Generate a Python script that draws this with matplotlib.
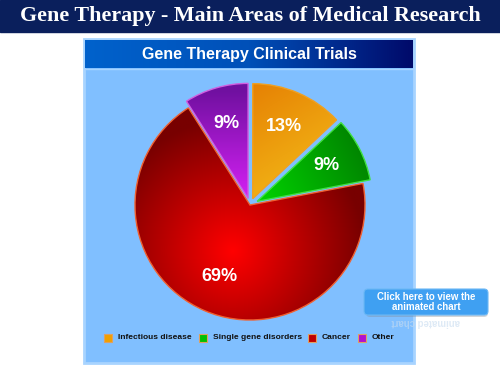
import matplotlib.pyplot as plt
import numpy as np
from matplotlib.colors import LinearSegmentedColormap
from matplotlib.patches import Rectangle, FancyBboxPatch

labels = ["Infectious disease", "Single gene disorders", "Cancer", "Other"]
shares = [13, 9, 69, 9]
explode = [0.06, 0.07, 0.0, 0.06]

# (centre colour, edge colour, outline)
grad_colors = [
    ("#f8d020", "#e47800", "#f0a020"),
    ("#00d000", "#007a00", "#40e040"),
    ("#ff0000", "#780000", "#f06030"),
    ("#d020f0", "#7010a0", "#d060e0"),
]
legend_colors = ["#f0a000", "#00c000", "#c00000", "#b010d0"]

W, H = 500, 375
fig = plt.figure(figsize=(5, 3.75), dpi=100)
fig.patch.set_facecolor("white")

# background layer in pixel coordinates (y downwards)
bg = fig.add_axes([0, 0, 1, 1])
bg.set_xlim(0, W)
bg.set_ylim(H, 0)
bg.axis("off")

bg.add_patch(Rectangle((0, 0), W, 32, color="#0a1f5c", zorder=1))
bg.text(250, 16, "Gene Therapy - Main Areas of Medical Research", color="white",
        fontsize=15.8, fontweight="bold", family="Liberation Serif",
        ha="center", va="center", zorder=2)

# chart panel
bg.add_patch(Rectangle((84, 39), 330, 324, facecolor="#80bfff",
                       edgecolor="#a8d4ff", linewidth=2, zorder=1))
hdr = np.linspace(0, 1, 256).reshape(1, -1)
hdr_cmap = LinearSegmentedColormap.from_list("hdr", ["#0062cc", "#0050b8", "#000a6a"])
bg.imshow(hdr, extent=[85, 413, 68, 40], cmap=hdr_cmap, aspect="auto", zorder=2)
bg.plot([85, 413], [68.5, 68.5], color="#a8d4ff", lw=1, zorder=3)
bg.set_xlim(0, W)
bg.set_ylim(H, 0)
bg.text(249, 54, "Gene Therapy Clinical Trials", color="white", fontsize=11.5,
        fontweight="bold", family="Liberation Sans", ha="center", va="center", zorder=4)

# legend
sq_x = [108, 203, 312, 362]
for x, lab, c in zip(sq_x, labels, legend_colors):
    bg.add_patch(Rectangle((x - 4, 333.5), 8, 8, facecolor=c,
                           edgecolor="#e0a060", linewidth=0.8, zorder=4))
    bg.text(x + 10, 337.5, lab, fontsize=6.0, fontweight="bold", color="#101010",
            family="Liberation Sans", ha="left", va="center", zorder=4)

# button
bg.add_patch(FancyBboxPatch((368, 293), 118, 22, boxstyle="round,pad=2,rounding_size=4",
                            facecolor="#808890", edgecolor="none", alpha=0.35, zorder=4))
bg.add_patch(FancyBboxPatch((366, 291), 120, 22, boxstyle="round,pad=2,rounding_size=4",
                            facecolor="#3fa0f2", edgecolor="#6cb8f5", linewidth=0.8, zorder=5))
bg.text(426, 296.5, "Click here to view the", color="white", fontsize=6.9,
        fontweight="bold", family="Liberation Sans", ha="center", va="center", zorder=6)
bg.text(426, 307.5, "animated chart", color="white", fontsize=6.9,
        fontweight="bold", family="Liberation Sans", ha="center", va="center", zorder=6)
bg.text(426, 322, "animated chart", color="#c8dcf0", fontsize=6.9, alpha=0.6,
        fontweight="bold", family="Liberation Sans", ha="center", va="center",
        rotation=180, zorder=6)

# pie, centre at pixel (250, 205), radius 115 px
cx, cy, r = 250, 205, 115
span = 2.4 * r
ax = fig.add_axes([(cx - span / 2) / W, (H - cy - span / 2) / H, span / W, span / H])
ax.set_facecolor("none")
wedges, texts, autotexts = ax.pie(
    shares, explode=explode, startangle=90, counterclock=False, radius=1,
    autopct="%d%%", pctdistance=0.68,
    textprops=dict(color="white", fontsize=13, fontweight="bold", family="Liberation Sans"),
)

yy, xx = np.mgrid[1.2:-1.2:400j, -1.2:1.2:400j]
for i, (w, (c0, c1, ec)) in enumerate(zip(wedges, grad_colors)):
    if i == 2:
        g = np.clip(np.hypot(xx + 0.15, yy + 0.4) / 1.15, 0, 1)
    elif i == 0:
        g = np.clip((xx * 0.5 - yy * 0.8 + 1.0) / 1.6, 0, 1)
        g = 1 - g
    elif i == 1:
        g = np.clip((xx * 0.8 + yy * 0.4 - 0.1) / 1.0, 0, 1)
    else:
        g = np.clip((yy - 0.1) / 0.9, 0, 1)
    cmap = LinearSegmentedColormap.from_list(f"g{i}", [c0, c1])
    im = ax.imshow(g, extent=[-1.2, 1.2, -1.2, 1.2], cmap=cmap, vmin=0, vmax=1,
                   zorder=1, interpolation="bilinear")
    im.set_clip_path(w)
    w.set_facecolor("none")
    w.set_edgecolor(ec)
    w.set_linewidth(1.0)
    w.set_zorder(2)

for t in autotexts:
    t.set_zorder(3)

ax.set_xlim(-1.2, 1.2)
ax.set_ylim(-1.2, 1.2)
ax.set_aspect("equal")
ax.axis("off")

fig.savefig("out.png", dpi=100)
